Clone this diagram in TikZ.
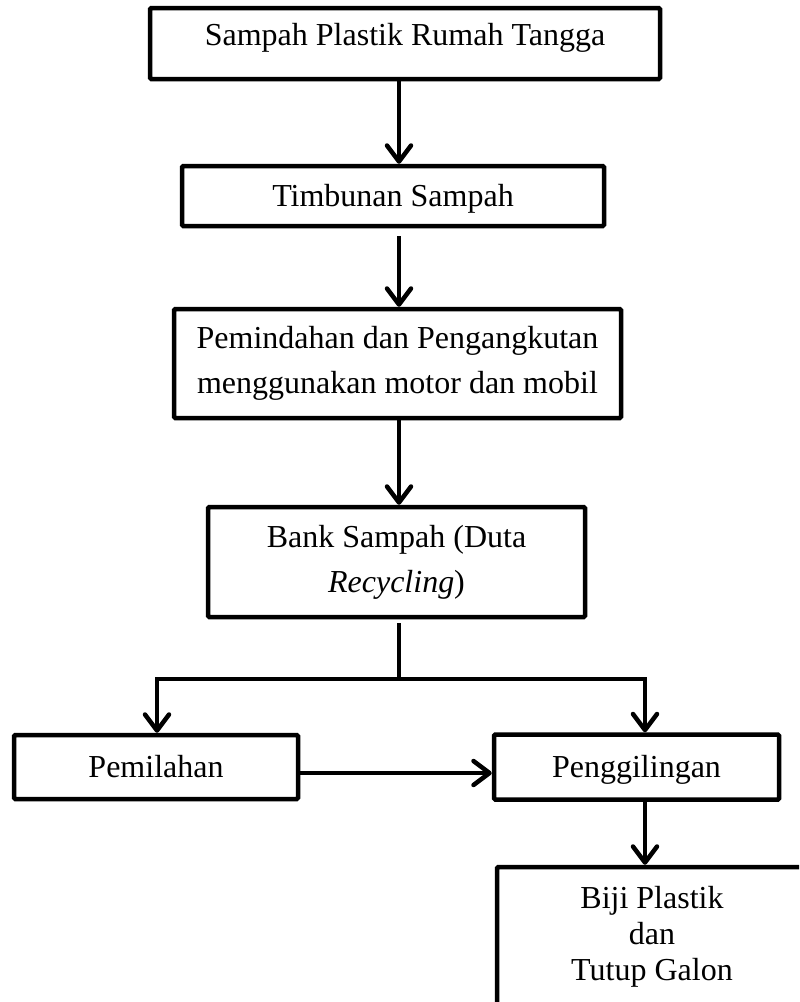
\documentclass[tikz,border=0pt]{standalone}
\usepackage{fontspec}
\setmainfont{Liberation Serif}
\usepackage{tikz}
\usetikzlibrary{arrows.meta}
\tikzstyle{flowbox} = [draw=black, fill=white, line width=2.25pt,
    rectangle, rounded corners=0.6pt, align=center,
    font=\fontsize{16}{22.5}\selectfont]
\tikzstyle{oneline} = [text height=10.6pt, text depth=0pt]
\tikzstyle{flowarrow} = [line width=2.25pt,
    -{Straight Barb[length=8pt, width=12pt, round]}]
\tikzstyle{flowline} = [line width=2.25pt]

\begin{document}
\begin{tikzpicture}[x=0.5pt, y=-0.5pt]
                \useasboundingbox (0,0) rectangle (799,1002);
                \clip (0,0) rectangle (799,1002);
                \coordinate (spine) at (399,0);
                \coordinate (rcol) at (645,0);
                \coordinate (split) at (399,679);
                \node [flowbox, text height=10.6pt, text depth=9.1pt,
                    minimum width=255pt, minimum height=35.5pt] (sampah) at (405,43.5)
                    {Sampah Plastik Rumah Tangga};
                \node [flowbox, oneline, minimum width=211pt, minimum height=30pt] (timbunan) at (393,196)
                    {Timbunan Sampah};
                \node [flowbox, minimum width=223.5pt, minimum height=54.5pt] (pindah) at (397.5,363.5)
                    {Pemindahan dan Pengangkutan\\menggunakan motor dan mobil};
                \node [flowbox, minimum width=188.5pt, minimum height=55pt] (bank) at (396.5,562)
                    {Bank Sampah (Duta\\\textit{Recycling})};
                \node [flowbox, oneline, minimum width=142pt, minimum height=32pt] (pilah) at (156,767)
                    {Pemilahan};
                \node [flowbox, oneline, minimum width=142.5pt, minimum height=32.5pt] (giling) at (636.5,767)
                    {Penggilingan};
                \node [flowbox, minimum width=155pt, minimum height=70pt,
                    font=\fontsize{16}{18}\selectfont] (hasil) at (652,937)
                    {Biji Plastik\\dan\\Tutup Galon};
                \draw [flowarrow] (sampah.south -| spine) -- (timbunan.north -| spine);
                \draw [flowarrow, shorten <=4pt] (timbunan.south -| spine) -- (pindah.north -| spine);
                \draw [flowarrow] (pindah.south -| spine) -- (bank.north -| spine);
                \draw [flowline, shorten <=2pt] (bank.south -| spine) -- (split);
                \draw [flowarrow] (split) -| (pilah.north -| 157,0);
                \draw [flowarrow] (split) -| (giling.north -| rcol);
                \draw [flowarrow] ([yshift=-3pt]pilah.east) -- ([yshift=-3pt]pilah.east -| giling.west);
                \draw [flowarrow] (giling.south -| rcol) -- (hasil.north -| rcol);
            \end{tikzpicture}
\end{document}
